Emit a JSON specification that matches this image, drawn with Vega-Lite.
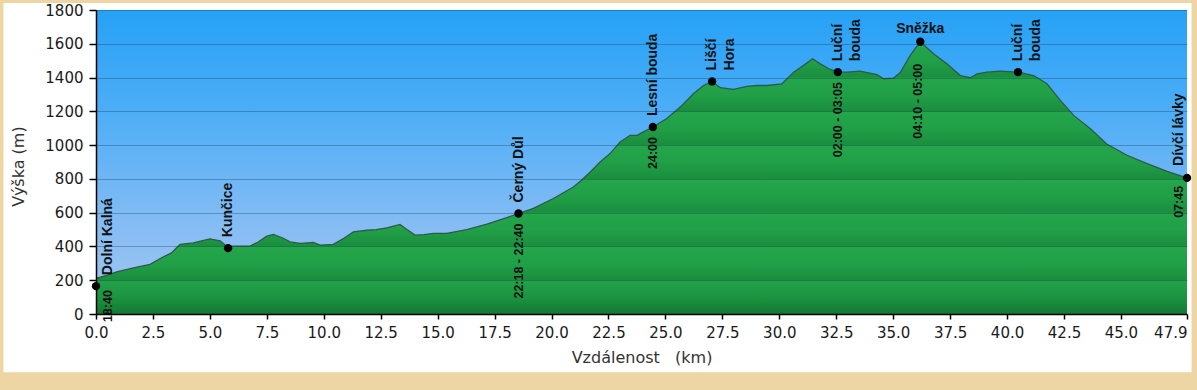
{
  "$schema": "https://vega.github.io/schema/vega-lite/v6.json",
  "width": 1091,
  "height": 304,
  "autosize": {"type": "none"},
  "padding": {"left": 96, "top": 10, "right": 10, "bottom": 76},
  "background": "#EDD6A3",
  "config": {
    "view": {"stroke": null},
    "axis": {
      "labelFont": "DejaVu Sans",
      "labelFontSize": 15,
      "labelColor": "#1a1a1a",
      "titleFont": "DejaVu Sans",
      "titleFontSize": 16,
      "titleFontWeight": "normal",
      "titleColor": "#333333",
      "domainColor": "#000000",
      "domainWidth": 1.5,
      "tickColor": "#000000",
      "tickWidth": 1.5,
      "zindex": 1
    }
  },
  "datasets": {
    "panel": [{}],
    "profile": [
      {"km": 0, "m": 211}, {"km": 0.45, "m": 228}, {"km": 0.91, "m": 250}, {"km": 1.6, "m": 272},
      {"km": 2.37, "m": 294}, {"km": 2.96, "m": 339}, {"km": 3.3, "m": 360}, {"km": 3.69, "m": 412},
      {"km": 4.27, "m": 421}, {"km": 5.0, "m": 445}, {"km": 5.45, "m": 433}, {"km": 5.75, "m": 400},
      {"km": 6.03, "m": 402}, {"km": 6.76, "m": 402}, {"km": 7.1, "m": 425}, {"km": 7.5, "m": 461},
      {"km": 7.79, "m": 471}, {"km": 8.2, "m": 450}, {"km": 8.52, "m": 427}, {"km": 8.96, "m": 418},
      {"km": 9.54, "m": 424}, {"km": 9.84, "m": 408}, {"km": 10.42, "m": 412}, {"km": 10.9, "m": 450},
      {"km": 11.3, "m": 486}, {"km": 11.89, "m": 496}, {"km": 12.3, "m": 500}, {"km": 12.77, "m": 510},
      {"km": 13.35, "m": 530}, {"km": 13.65, "m": 500}, {"km": 14.01, "m": 467}, {"km": 14.4, "m": 470},
      {"km": 14.81, "m": 477}, {"km": 15.4, "m": 477}, {"km": 16.28, "m": 500}, {"km": 17.16, "m": 532},
      {"km": 18.04, "m": 571}, {"km": 18.55, "m": 595}, {"km": 19.2, "m": 625}, {"km": 20.08, "m": 684},
      {"km": 20.96, "m": 752}, {"km": 21.3, "m": 790}, {"km": 21.7, "m": 841}, {"km": 22.13, "m": 900},
      {"km": 22.57, "m": 950}, {"km": 23.01, "m": 1018}, {"km": 23.45, "m": 1058}, {"km": 23.75, "m": 1058},
      {"km": 24.04, "m": 1078}, {"km": 24.45, "m": 1107}, {"km": 25.06, "m": 1157}, {"km": 25.65, "m": 1225},
      {"km": 26.23, "m": 1304}, {"km": 26.67, "m": 1353}, {"km": 27.04, "m": 1377}, {"km": 27.41, "m": 1340},
      {"km": 27.99, "m": 1330}, {"km": 28.58, "m": 1348}, {"km": 29.02, "m": 1353}, {"km": 29.46, "m": 1353},
      {"km": 30.12, "m": 1363}, {"km": 30.63, "m": 1432}, {"km": 31.07, "m": 1472}, {"km": 31.46, "m": 1511},
      {"km": 31.8, "m": 1481}, {"km": 32.24, "m": 1448}, {"km": 32.57, "m": 1432}, {"km": 32.97, "m": 1432},
      {"km": 33.55, "m": 1438}, {"km": 34.29, "m": 1418}, {"km": 34.58, "m": 1393}, {"km": 35.02, "m": 1397},
      {"km": 35.31, "m": 1430}, {"km": 35.75, "m": 1531}, {"km": 36.19, "m": 1612}, {"km": 36.77, "m": 1541},
      {"km": 37.36, "m": 1481}, {"km": 37.95, "m": 1412}, {"km": 38.39, "m": 1399}, {"km": 38.68, "m": 1422},
      {"km": 39.12, "m": 1432}, {"km": 39.7, "m": 1438}, {"km": 40.48, "m": 1432}, {"km": 41.17, "m": 1412},
      {"km": 41.75, "m": 1363}, {"km": 42.34, "m": 1265}, {"km": 42.92, "m": 1176}, {"km": 43.66, "m": 1097},
      {"km": 44.39, "m": 1005}, {"km": 45.27, "m": 940}, {"km": 46.15, "m": 890}, {"km": 47.03, "m": 845},
      {"km": 47.9, "m": 806}
    ],
    "points": [
      {"name": "Dolní Kalná", "km": 0, "m": 165, "time": "18:40"},
      {"name": "Kunčice", "km": 5.8, "m": 390, "time": ""},
      {"name": "Černý Důl", "km": 18.55, "m": 595, "time": "22:18 - 22:40"},
      {"name": "Lesní bouda", "km": 24.45, "m": 1107, "time": "24:00"},
      {"name": "Liščí\nHora", "km": 27.05, "m": 1377, "time": ""},
      {"name": "Luční\nbouda", "km": 32.57, "m": 1432, "time": "02:00 - 03:05"},
      {"name": "Sněžka", "km": 36.19, "m": 1612, "time": "04:10 - 05:00"},
      {"name": "Luční\nbouda", "km": 40.48, "m": 1432, "time": ""},
      {"name": "Dívčí lávky", "km": 47.9, "m": 806, "time": "07:45"}
    ]
  },
  "layer": [
    {
      "data": {"name": "panel"},
      "mark": {"type": "rect", "fill": "#FFFFFF", "clip": false},
      "encoding": {
        "x": {"datum": -4.06, "type": "quantitative", "scale": {"domain": [0, 47.9], "nice": false, "zero": false}, "title": "Vzdálenost\u00a0\u00a0\u00a0(km)"},
        "x2": {"datum": 48.1},
        "y": {"datum": 1841, "type": "quantitative", "scale": {"domain": [0, 1800], "nice": false}, "title": "Výška (m)"},
        "y2": {"datum": -345}
      }
    },
    {
      "data": {"name": "panel"},
      "mark": {
        "type": "rect",
        "fill": {
          "gradient": "linear", "x1": 0, "y1": 0, "x2": 0, "y2": 1,
          "stops": [
            {"offset": 0, "color": "#26A1F6"},
            {"offset": 0.35, "color": "#4FAEF6"},
            {"offset": 0.7, "color": "#84BCF4"},
            {"offset": 1, "color": "#A6C7F1"}
          ]
        }
      },
      "encoding": {
        "x": {"datum": 0, "type": "quantitative", "title": "Vzdálenost\u00a0\u00a0\u00a0(km)"},
        "x2": {"datum": 47.9},
        "y": {"datum": 0, "type": "quantitative", "title": "Výška (m)"},
        "y2": {"datum": 1800}
      }
    },
    {
      "data": {"name": "profile"},
      "mark": {
        "type": "area",
        "interpolate": "linear",
        "color": {
          "gradient": "linear", "x1": 0, "y1": 0, "x2": 0, "y2": 1,
          "stops": [
            {"offset": 0, "color": "#1E9843"},
            {"offset": 0.0062, "color": "#1A8E3F"},
            {"offset": 0.00868, "color": "#24A64B"},
            {"offset": 0.06948, "color": "#21A047"},
            {"offset": 0.13027, "color": "#1A8E3F"},
            {"offset": 0.13275, "color": "#24A64B"},
            {"offset": 0.19355, "color": "#21A047"},
            {"offset": 0.25434, "color": "#1A8E3F"},
            {"offset": 0.25682, "color": "#24A64B"},
            {"offset": 0.31762, "color": "#21A047"},
            {"offset": 0.37841, "color": "#1A8E3F"},
            {"offset": 0.38089, "color": "#24A64B"},
            {"offset": 0.44169, "color": "#21A047"},
            {"offset": 0.50248, "color": "#1A8E3F"},
            {"offset": 0.50496, "color": "#24A64B"},
            {"offset": 0.56576, "color": "#21A047"},
            {"offset": 0.62655, "color": "#1A8E3F"},
            {"offset": 0.62903, "color": "#24A64B"},
            {"offset": 0.68983, "color": "#21A047"},
            {"offset": 0.75062, "color": "#1A8E3F"},
            {"offset": 0.7531, "color": "#24A64B"},
            {"offset": 0.8139, "color": "#21A047"},
            {"offset": 0.87469, "color": "#1A8E3F"},
            {"offset": 0.87717, "color": "#22A249"},
            {"offset": 0.93797, "color": "#1C9441"},
            {"offset": 1, "color": "#147833"}
          ]
        }
      },
      "encoding": {
        "x": {
          "field": "km", "type": "quantitative",
          "scale": {"domain": [0, 47.9], "nice": false, "zero": false},
          "title": "Vzdálenost\u00a0\u00a0\u00a0(km)",
          "axis": {
            "values": [0, 2.5, 5, 7.5, 10, 12.5, 15, 17.5, 20, 22.5, 25, 27.5, 30, 32.5, 35, 37.5, 40, 42.5, 45, 47.9],
            "tickCount": 30,
            "format": ".1f",
            "labelOverlap": false,
            "labelAlign": {"expr": "datum.value >= 47.9 ? 'right' : 'center'"},
            "tickSize": 5,
            "labelPadding": 6,
            "grid": false,
            "titleY": 43,
            "titleBaseline": "middle",
            "zindex": 1
          }
        },
        "y": {
          "field": "m", "type": "quantitative",
          "scale": {"domain": [0, 1800], "nice": false},
          "title": "Výška (m)",
          "axis": {
            "values": [0, 200, 400, 600, 800, 1000, 1200, 1400, 1600, 1800],
            "tickCount": 12,
            "format": "d",
            "labelOverlap": false,
            "tickSize": 7,
            "labelPadding": 6,
            "grid": true,
            "gridColor": "#0a2a40",
            "gridOpacity": 0.3,
            "gridWidth": 1,
            "titleX": -78,
            "titleY": 156,
            "titleAngle": 270,
            "titleAlign": "center",
            "titleBaseline": "middle",
            "zindex": 1
          }
        }
      }
    },
    {
      "data": {"name": "profile"},
      "mark": {"type": "line", "interpolate": "linear", "color": "#2E5A4A", "strokeWidth": 1.3},
      "encoding": {
        "x": {"field": "km", "type": "quantitative", "title": "Vzdálenost\u00a0\u00a0\u00a0(km)"},
        "y": {"field": "m", "type": "quantitative", "title": "Výška (m)"}
      }
    },
    {
      "data": {"name": "points"},
      "mark": {"type": "point", "filled": true, "color": "#000000", "opacity": 1, "size": 70, "clip": false},
      "encoding": {
        "x": {"field": "km", "type": "quantitative", "title": "Vzdálenost\u00a0\u00a0\u00a0(km)"},
        "y": {"field": "m", "type": "quantitative", "title": "Výška (m)"}
      }
    },
    {
      "data": {"name": "points"},
      "transform": [{"filter": "datum.name != 'Sněžka' && datum.km > 0 && datum.km < 47.9"}],
      "mark": {"type": "text", "font": "Liberation Sans", "fontWeight": "bold", "fontSize": 14, "color": "#111111", "angle": 270, "align": "left", "baseline": "middle", "dx": 11, "lineBreak": "\n", "lineHeight": 18},
      "encoding": {
        "x": {"field": "km", "type": "quantitative"},
        "y": {"field": "m", "type": "quantitative"},
        "text": {"field": "name"}
      }
    },
    {
      "data": {"name": "points"},
      "transform": [{"filter": "datum.km == 0"}],
      "mark": {"type": "text", "font": "Liberation Sans", "fontWeight": "bold", "fontSize": 14, "color": "#111111", "angle": 270, "align": "left", "baseline": "middle", "dx": 11, "dy": 12},
      "encoding": {
        "x": {"field": "km", "type": "quantitative"},
        "y": {"field": "m", "type": "quantitative"},
        "text": {"field": "name"}
      }
    },
    {
      "data": {"name": "points"},
      "transform": [{"filter": "datum.km >= 47.9"}],
      "mark": {"type": "text", "font": "Liberation Sans", "fontWeight": "bold", "fontSize": 14, "color": "#111111", "angle": 270, "align": "left", "baseline": "middle", "dx": 12, "dy": -8},
      "encoding": {
        "x": {"field": "km", "type": "quantitative"},
        "y": {"field": "m", "type": "quantitative"},
        "text": {"field": "name"}
      }
    },
    {
      "data": {"name": "points"},
      "transform": [{"filter": "datum.name == 'Sněžka'"}],
      "mark": {"type": "text", "font": "Liberation Sans", "fontWeight": "bold", "fontSize": 14, "color": "#111111", "align": "center", "baseline": "alphabetic", "dy": -9},
      "encoding": {
        "x": {"field": "km", "type": "quantitative"},
        "y": {"field": "m", "type": "quantitative"},
        "text": {"field": "name"}
      }
    },
    {
      "data": {"name": "points"},
      "transform": [{"filter": "datum.time != '' && datum.name != 'Sněžka' && datum.km > 0 && datum.km < 47.9"}],
      "mark": {"type": "text", "font": "Liberation Sans", "fontWeight": "bold", "fontSize": 12.5, "color": "#111111", "angle": 270, "align": "right", "baseline": "middle", "dx": -10},
      "encoding": {
        "x": {"field": "km", "type": "quantitative"},
        "y": {"field": "m", "type": "quantitative"},
        "text": {"field": "time"}
      }
    },
    {
      "data": {"name": "points"},
      "transform": [{"filter": "datum.name == 'Sněžka'"}],
      "mark": {"type": "text", "font": "Liberation Sans", "fontWeight": "bold", "fontSize": 12.5, "color": "#111111", "angle": 270, "align": "right", "baseline": "middle", "dx": -22, "dy": -2},
      "encoding": {
        "x": {"field": "km", "type": "quantitative"},
        "y": {"field": "m", "type": "quantitative"},
        "text": {"field": "time"}
      }
    },
    {
      "data": {"name": "points"},
      "transform": [{"filter": "datum.km == 0"}],
      "mark": {"type": "text", "font": "Liberation Sans", "fontWeight": "bold", "fontSize": 12.5, "color": "#111111", "angle": 270, "align": "right", "baseline": "middle", "dx": -4, "dy": 12},
      "encoding": {
        "x": {"field": "km", "type": "quantitative"},
        "y": {"field": "m", "type": "quantitative"},
        "text": {"field": "time"}
      }
    },
    {
      "data": {"name": "points"},
      "transform": [{"filter": "datum.km >= 47.9"}],
      "mark": {"type": "text", "font": "Liberation Sans", "fontWeight": "bold", "fontSize": 12.5, "color": "#111111", "angle": 270, "align": "right", "baseline": "middle", "dx": -8, "dy": -8},
      "encoding": {
        "x": {"field": "km", "type": "quantitative"},
        "y": {"field": "m", "type": "quantitative"},
        "text": {"field": "time"}
      }
    }
  ]
}
